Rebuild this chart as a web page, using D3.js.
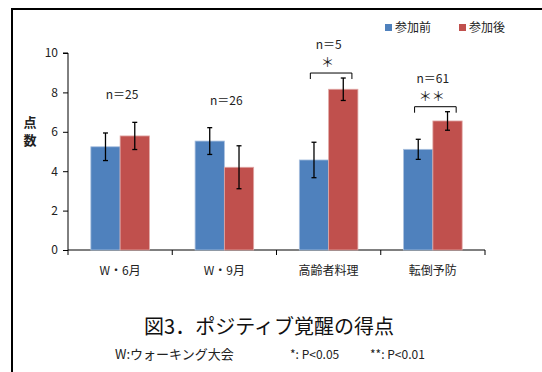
<!DOCTYPE html>
<html>
<head>
<meta charset="utf-8">
<script src="https://cdn.jsdelivr.net/npm/d3@7"></script>
<style>
  body { margin: 0; background: #fff; }
  text { font-family: "Noto Sans CJK JP", "Noto Sans", sans-serif; }
</style>
</head>
<body>
<div id="chart"></div>
<script>
// data
const categories = ["W・6月", "W・9月", "高齢者料理", "転倒予防"];
const series = ["参加前", "参加後"];
const beforeVals = [5.24, 5.53, 4.57, 5.11];
const afterVals = [5.79, 4.20, 8.16, 6.55];
const beforeErr = [0.70, 0.68, 0.90, 0.51];
const afterErr = [0.69, 1.09, 0.57, 0.47];
const nLabels = ["n＝25", "n＝26", "n＝5", "n＝61"];
const sigMarks = ["", "", "*", "**"];
const yTicks = [0, 2, 4, 6, 8, 10];
const colors = ["#4F81BD", "#C0504D"];

const width = 542, height = 372;
const svg = d3.select("#chart").append("svg")
    .attr("width", width)
    .attr("height", height);

// outer frame (right/bottom fall outside the crop)
svg.append("path")
    .attr("d", `M12,${height + 2} V9 H${width + 2}`)
    .attr("fill", "none")
    .attr("stroke", "#000")
    .attr("stroke-width", 2);

// scales
const x0 = d3.scaleBand().domain(categories).range([68, 485]);
const x1 = d3.scaleBand().domain(series).range([0, x0.bandwidth()]).paddingOuter(0.78);
const y = d3.scaleLinear().domain([0, 10]).range([250, 53]);

// y axis
const yAxis = svg.append("g")
    .attr("transform", "translate(68,0)")
    .call(d3.axisLeft(y).tickValues(yTicks).tickSize(5).tickPadding(5));
yAxis.select(".domain").attr("d", `M-5,${y(10)}H0V${y(0)}`);
yAxis.selectAll("text").style("font-size", "12px").attr("fill", "#222");

// x axis with ticks at the category borders
const xAxis = svg.append("g").attr("transform", `translate(0,${y(0)})`);
xAxis.append("line")
    .attr("x1", 68).attr("x2", 485)
    .attr("stroke", "#000");
const borders = categories.map(c => x0(c)).concat([x0.range()[1]]);
xAxis.selectAll(".bt").data(borders).enter().append("line")
    .attr("x1", d => d).attr("x2", d => d)
    .attr("y1", 0).attr("y2", 5)
    .attr("stroke", "#000");
xAxis.selectAll(".cl").data(categories).enter().append("text")
    .attr("x", d => x0(d) + x0.bandwidth() / 2)
    .attr("y", 25)
    .attr("text-anchor", "middle")
    .style("font-size", "12px")
    .attr("fill", "#222")
    .text(d => d);

// bars
const rows = categories.map((c, i) => ({
    cat: c,
    vals: [
        { s: series[0], v: beforeVals[i], e: beforeErr[i] },
        { s: series[1], v: afterVals[i], e: afterErr[i] }
    ]
}));

const groups = svg.selectAll(".grp").data(rows).enter().append("g")
    .attr("transform", d => `translate(${x0(d.cat)},0)`);

groups.selectAll("rect").data(d => d.vals).enter().append("rect")
    .attr("x", d => x1(d.s))
    .attr("y", d => y(d.v))
    .attr("width", x1.bandwidth())
    .attr("height", d => y(0) - y(d.v))
    .attr("fill", (d, i) => colors[i])
    .attr("stroke", (d, i) => i === 0 ? "#a9c0de" : "#e0a8a6")
    .attr("stroke-width", 0.8);

// error bars
const eb = groups.selectAll(".eb").data(d => d.vals).enter().append("g")
    .attr("stroke", "#000")
    .attr("stroke-width", 1.3);
eb.append("line")
    .attr("x1", d => x1(d.s) + x1.bandwidth() / 2)
    .attr("x2", d => x1(d.s) + x1.bandwidth() / 2)
    .attr("y1", d => y(d.v + d.e))
    .attr("y2", d => y(d.v - d.e));
eb.selectAll(".cap").data(d => [[d, d.v + d.e], [d, d.v - d.e]]).enter().append("line")
    .attr("x1", d => x1(d[0].s) + x1.bandwidth() / 2 - 2.5)
    .attr("x2", d => x1(d[0].s) + x1.bandwidth() / 2 + 2.5)
    .attr("y1", d => y(d[1]))
    .attr("y2", d => y(d[1]));

// n labels and significance brackets
rows.forEach((r, i) => {
    const cx = x0(r.cat) + x0.bandwidth() / 2;
    const top = d3.max(r.vals, d => d.v + d.e);
    const g = svg.append("g");
    if (sigMarks[i]) {
        const by = y(top) - 5;
        const bx1 = x0(r.cat) + x1(series[0]) + 11;
        const bx2 = x0(r.cat) + x1(series[1]) + x1.bandwidth() - 6;
        g.append("path")
            .attr("d", `M${bx1},${by + 6}V${by}H${bx2}V${by + 6}`)
            .attr("fill", "none")
            .attr("stroke", "#000")
            .attr("stroke-width", 1);
        g.append("text")
            .attr("x", cx - 1)
            .attr("y", by - 6)
            .attr("text-anchor", "middle")
            .style("font-size", "13px")
            .attr("fill", "#222")
            .text(sigMarks[i].replace(/\*/g, "＊"));
        g.append("text")
            .attr("x", cx)
            .attr("y", by - 24)
            .attr("text-anchor", "middle")
            .style("font-size", "12px")
            .attr("fill", "#222")
            .text(nLabels[i]);
    } else {
        g.append("text")
            .attr("x", cx + 2)
            .attr("y", y(top) - 23)
            .attr("text-anchor", "middle")
            .style("font-size", "12px")
            .attr("fill", "#222")
            .text(nLabels[i]);
    }
});

// y axis title, stacked vertically
["点", "数"].forEach((ch, i) => {
    svg.append("text")
        .attr("x", 30)
        .attr("y", 127 + i * 18)
        .attr("text-anchor", "middle")
        .style("font-size", "13px")
        .style("font-weight", "bold")
        .attr("fill", "#222")
        .text(ch);
});

// legend
const legend = svg.append("g");
series.forEach((s, i) => {
    const lx = 385 + i * 74;
    legend.append("rect")
        .attr("x", lx).attr("y", 24)
        .attr("width", 7).attr("height", 7)
        .attr("fill", colors[i]);
    legend.append("text")
        .attr("x", lx + 10).attr("y", 32)
        .style("font-size", "12px")
        .attr("fill", "#222")
        .text(s);
});

// title and footnotes
svg.append("text")
    .attr("x", 269).attr("y", 334)
    .attr("text-anchor", "middle")
    .style("font-size", "20px")
    .attr("fill", "#111")
    .text("図3．ポジティブ覚醒の得点");
svg.append("text")
    .attr("x", 115).attr("y", 359)
    .style("font-size", "13px")
    .attr("fill", "#222")
    .text("W:ウォーキング大会");
svg.append("text")
    .attr("x", 290).attr("y", 359)
    .style("font-size", "12px")
    .attr("fill", "#222")
    .text("*: P<0.05");
svg.append("text")
    .attr("x", 370).attr("y", 359)
    .style("font-size", "12px")
    .attr("fill", "#222")
    .text("**: P<0.01");
</script>
</body>
</html>
